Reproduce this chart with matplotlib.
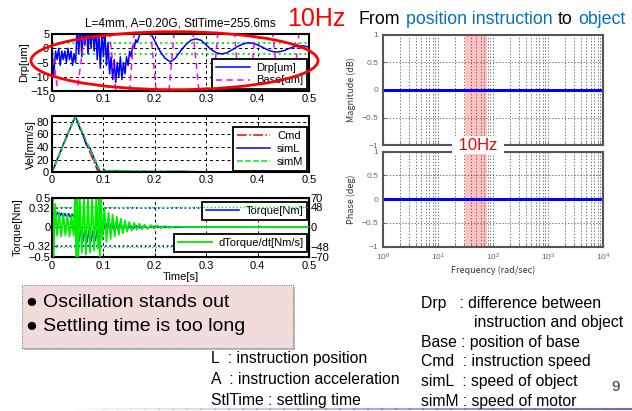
import numpy as np
import matplotlib.pyplot as plt
from matplotlib.patches import Ellipse, Rectangle
from matplotlib.lines import Line2D

# ---------------- values ----------------
time_ticks = [0, 0.1, 0.2, 0.3, 0.4, 0.5]

# Drp[um]
drp_t = [0, 0.003, 0.007, 0.010, 0.013, 0.016, 0.019, 0.022, 0.025, 0.028, 0.031, 0.034,
         0.037, 0.040, 0.043, 0.046, 0.049, 0.052, 0.055, 0.058, 0.061, 0.064, 0.067, 0.070,
         0.073, 0.076, 0.079, 0.082, 0.085, 0.088, 0.091, 0.094, 0.097, 0.100, 0.103, 0.106,
         0.109, 0.112, 0.115, 0.118, 0.121, 0.124, 0.127, 0.130, 0.133, 0.136, 0.139, 0.142,
         0.145, 0.148, 0.151, 0.154, 0.157, 0.160, 0.163, 0.166, 0.170, 0.180, 0.190, 0.200,
         0.210, 0.220, 0.230, 0.240, 0.250, 0.260, 0.270, 0.280, 0.290, 0.300, 0.310, 0.320,
         0.330, 0.340, 0.350, 0.360, 0.370, 0.380, 0.390, 0.400, 0.410, 0.420, 0.430, 0.440,
         0.450, 0.460, 0.470, 0.480, 0.490, 0.500]
drp_v = [0, -10, -1, -4, 0, -6, -1, -4, -1, -5, 0, -4,
         -1, -6, -2, -5, 8, -2, 9, -3, 9, 1, 9, -2,
         8, 0, 9, -1, 8, -4, 6, -7, 5, -3, 6, -6,
         2, -9, -3, -11, -4, -12, -5, -10, -3, -11, -5, -9,
         -3, -6, -1, -3, 1, 0, 3, 2, 4.5, 7, 6, 2.5,
         -1, -3.5, -4.8, -3.5, -1, 1.2, 2.8, 3.3, 2.8, 1.2, -0.5, -1.6,
         -2.0, -1.6, -0.6, 0.5, 1.4, 1.9, 1.8, 1.2, 0.3, -0.6, -1.2, -1.3,
         -0.9, -0.2, 0.5, 0.9, 0.8, 0.4]

# Base[um] (mostly off scale)
base_t = [0, 0.03, 0.09, 0.14, 0.175, 0.215, 0.255, 0.30, 0.34, 0.375, 0.41, 0.455, 0.5]
base_v = [0, -40, 40, -40, 40, -40, 40, -40, 40, -40, 40, -40, 40]
stl_band = [-2, 2]

# velocity [mm/s]
cmd_t = [0, 0.045, 0.09, 0.5]
cmd_v = [0, 88, 0, 0]
siml_t = [0, 0.01, 0.02, 0.03, 0.04, 0.045, 0.05, 0.055, 0.058, 0.062, 0.066, 0.07,
          0.074, 0.078, 0.082, 0.086, 0.09, 0.094, 0.098, 0.102, 0.106, 0.11, 0.12, 0.13,
          0.14, 0.15, 0.16, 0.18, 0.2, 0.22, 0.25, 0.27, 0.3, 0.4, 0.5]
siml_v = [0, 20, 40, 60, 78, 88, 80, 68, 64, 55, 45, 40,
          38, 30, 22, 14, 6, 1, 0, 4, 1, 2, 1.5, 2.5,
          1.5, 2, 1, 1.5, 1, 1.2, 1.5, 1, 0.5, 0.5, 0.5]
simm_t = [0, 0.045, 0.05, 0.06, 0.07, 0.08, 0.09, 0.095, 0.1, 0.12, 0.14, 0.16, 0.2, 0.25, 0.3, 0.5]
simm_v = [0, 88, 82, 62, 44, 26, 8, 1, 2, 3, 2.5, 2, 1.5, 1.5, 1, 0.5]

# torque [Nm]
tq_t = [0, 0.003, 0.007, 0.011, 0.015, 0.018, 0.022, 0.025, 0.029, 0.032, 0.036, 0.039,
        0.043, 0.045, 0.048, 0.052, 0.056, 0.060, 0.064, 0.068, 0.072, 0.076, 0.080, 0.084,
        0.088, 0.092, 0.096, 0.100, 0.104, 0.108, 0.112, 0.116, 0.120, 0.124, 0.128, 0.132,
        0.137, 0.142, 0.147, 0.152, 0.158, 0.164, 0.171, 0.178, 0.186, 0.195, 0.21, 0.25, 0.5]
tq_v = [0, 0.25, 0.17, 0.25, 0.18, 0.24, 0.17, 0.23, 0.18, 0.23, 0.17, 0.22,
        0.18, 0.20, -0.10, -0.25, -0.06, -0.24, -0.05, -0.25, -0.05, -0.24, -0.06, -0.23,
        -0.05, -0.20, -0.03, 0.10, -0.05, 0.08, -0.04, 0.07, -0.04, 0.06, -0.03, 0.05,
        -0.03, 0.04, -0.02, 0.03, -0.02, 0.02, -0.01, 0.015, -0.01, 0.01, 0.005, 0, 0]

# dTorque/dt [Nm/s]
dtq_t = [0, 0.001, 0.003, 0.006, 0.010, 0.014, 0.018, 0.022, 0.026, 0.030, 0.034, 0.038,
         0.042, 0.045, 0.047, 0.049, 0.051, 0.054, 0.058, 0.062, 0.066, 0.070, 0.074, 0.078,
         0.082, 0.086, 0.089, 0.091, 0.093, 0.095, 0.098, 0.102, 0.106, 0.110, 0.114, 0.118,
         0.122, 0.126, 0.130, 0.134, 0.138, 0.142, 0.146, 0.150, 0.155, 0.160, 0.165, 0.170,
         0.175, 0.180, 0.186, 0.192, 0.198, 0.205, 0.212, 0.220, 0.228, 0.240, 0.260, 0.500]
dtq_v = [0, 80, -80, 55, -20, 35, -22, 32, -20, 30, -22, 28,
         -20, 80, -80, 80, -80, 70, -60, 75, -65, 70, -60, 70,
         -55, 65, -50, 80, -80, 80, -30, 45, -35, 35, -28, 30,
         -22, 25, -18, 20, -14, 16, -10, 12, -8, 10, -6, 8,
         -5, 6, -4, 5, -3, 4, -2, 3, -1.5, 1.5, 0.5, 0]

tq_ticks = [-0.5, -0.32, 0, 0.32, 0.5]
tq_labels = ['\u22120.5', '\u22120.32', '0', '0.32', '0.5']
dtq_ticks = [-70, -48, 0, 48, 70]
dtq_labels = ['\u221270', '\u221248', '0', '48', '70']

# bode (flat)
bode_w = [1, 10, 100, 1000, 10000]
bode_mag = [0, 0, 0, 0, 0]
bode_phase = [0, 0, 0, 0, 0]
band_w = (31, 78)
bode_yticks = [-1, -0.5, 0, 0.5, 1]
bode_ylabels = ['\u22121', '\u22120.5', '0', '0.5', '1']

bullets = ['\u25cf Oscillation stands out', '\u25cf Settling time is too long']
legend_left = ['L  : instruction position', 'A  : instruction acceleration',
               'StlTime : settling time']
legend_right = ['Drp   : difference between', 'Base : position of base',
                'Cmd  : instruction speed', 'simL  : speed of object',
                'simM : speed of motor']
legend_right_y = [303, 342, 361.5, 381, 401]

# ---------------- layout helpers ----------------
W, H = 632, 411
SANS = ['Liberation Sans', 'DejaVu Sans']
JP = ['Noto Sans CJK JP', 'DejaVu Sans']
plt.rcParams['font.family'] = SANS


def rect(l, t, r, b):
    return [l / W, 1 - b / H, (r - l) / W, (b - t) / H]


def fx(x):
    return x / W


def fy(y):
    return 1 - y / H


fig = plt.figure(figsize=(W / 100, H / 100), dpi=100)

grid_kw = dict(color='k', linestyle=(0, (3, 3)), linewidth=0.7)
leg_kw = dict(fontsize=8, fancybox=False, edgecolor='k', framealpha=1,
              borderpad=0.35, labelspacing=0.25, handlelength=3,
              handletextpad=0.6, borderaxespad=0.15)


def style_left(ax):
    ax.set_xlim(0, 0.5)
    ax.set_xticks(time_ticks)
    ax.set_xticklabels(['0', '0.1', '0.2', '0.3', '0.4', '0.5'])
    ax.tick_params(direction='in', labelsize=8, length=3, pad=2)
    for s in ax.spines.values():
        s.set_linewidth(1.5)


# --- Drp ---
ax1 = fig.add_axes(rect(52, 34, 309, 91))
style_left(ax1)
ax1.grid(True, **grid_kw)
for v in stl_band:
    ax1.axhline(v, color='#00ee00', ls=':', lw=1.4)
ax1.plot(drp_t, drp_v, color='#0000ff', lw=1.1, label='Drp[um]')
ax1.plot(base_t, base_v, color='#ff00ff', lw=1.1, ls=(0, (4, 3)), label='Base[um]')
ax1.set_ylim(-15, 5)
ax1.set_yticks([-15, -10, -5, 0, 5])
ax1.set_yticklabels(['\u221215', '\u221210', '\u22125', '0', '5'])
ax1.set_ylabel('Drp[um]', fontsize=8, labelpad=1)
ax1.legend(loc='lower right', **leg_kw).get_frame().set_linewidth(1.3)

# --- Vel ---
ax2 = fig.add_axes(rect(52, 116, 309, 172.3))
style_left(ax2)
ax2.grid(True, **grid_kw)
ax2.plot(cmd_t, cmd_v, color='red', lw=1.1, ls='-.', label='Cmd')
ax2.plot(siml_t, siml_v, color='#0000ff', lw=1.1, label='simL')
ax2.plot(simm_t, simm_v, color='#00ee00', lw=1.1, ls='--', label='simM')
ax2.set_ylim(0, 89)
ax2.set_yticks([0, 20, 40, 60, 80])
ax2.set_ylabel('Vel[mm/s]', fontsize=8, labelpad=1)
ax2.legend(loc='lower right', **leg_kw).get_frame().set_linewidth(1.3)

# --- Torque ---
ax3 = fig.add_axes(rect(52, 197.7, 309, 256.7))
style_left(ax3)
ax3.grid(True, axis='x', **grid_kw)
ax3.axhline(0, **grid_kw)
for v in (-0.32, 0.32):
    ax3.axhline(v, color='#0000ff', ls=':', lw=1.2)
ax3.plot(tq_t, tq_v, color='#0000ff', lw=1.1, label='Torque[Nm]')
ax3.set_ylim(-0.5, 0.5)
ax3.set_yticks(tq_ticks)
ax3.set_yticklabels(tq_labels)
ax3.tick_params(axis='y', pad=1)
ax3.tick_params(axis='x', pad=3)
ax3.set_ylabel('Torque[Nm]', fontsize=8, labelpad=0)
ax3.set_xlabel('Time[s]', fontsize=8, labelpad=1)

ax3b = ax3.twinx()
for v in (-48, 48):
    ax3b.axhline(v, color='#00ee00', ls=':', lw=1.0)
ax3b.plot(dtq_t, dtq_v, color='#00ee00', lw=1.3, label='dTorque/dt[Nm/s]')
ax3b.set_ylim(-70, 70)
ax3b.set_yticks(dtq_ticks)
ax3b.set_yticklabels(dtq_labels)
ax3b.tick_params(direction='in', labelsize=8, length=3, pad=1)
ax3.legend(loc='upper right', bbox_to_anchor=(1, 0.96), **leg_kw).get_frame().set_linewidth(1.3)
ax3b.legend(loc='lower right', bbox_to_anchor=(1, 0.05), **leg_kw).get_frame().set_linewidth(1.3)

# --- Bode ---
gray = '#666666'
axm = fig.add_axes(rect(383, 34.5, 603, 145.4))
axp = fig.add_axes(rect(383, 151.7, 603, 246.7))
bgrid = dict(color='#444444', linestyle=(0, (2, 2.5)), linewidth=0.5)
for ax in (axm, axp):
    ax.set_xscale('log')
    ax.set_xlim(1, 1e4)
    ax.set_ylim(-1, 1)
    ax.axvspan(*band_w, color='#ff3030', alpha=0.3, lw=0, zorder=0.5)
    ax.grid(True, which='both', axis='x', **bgrid)
    ax.grid(True, which='major', axis='y', **bgrid)
    ax.set_yticks(bode_yticks)
    ax.set_yticklabels(bode_ylabels)
    ax.tick_params(which='both', direction='in', colors=gray, labelsize=6, length=2)
    for s in ax.spines.values():
        s.set_linewidth(1.5)
        s.set_color('#555555')
axm.tick_params(labelbottom=False)
axm.plot(bode_w, bode_mag, color='#0000ff', lw=2.2)
axp.plot(bode_w, bode_phase, color='#0000ff', lw=2.2)
axm.set_ylabel('Magnitude (dB)', fontsize=6.5, family=JP, color='#333333', labelpad=4)
axp.set_ylabel('Phase (deg)', fontsize=6.5, family=JP, color='#333333', labelpad=4)
axp.set_xlabel('Frequency (rad/sec)', fontsize=6.5, family=JP, color='#333333', labelpad=2)

# ---------------- slide text and marks ----------------
fig.text(fx(180), fy(24), 'L=4mm, A=0.20G, StlTime=255.6ms', fontsize=8.5,
         ha='center', va='center')
fig.text(fx(287), fy(19), '10Hz', color='red', fontsize=18, va='center')

x = 359
for s, c in [('From', 'black'), ('position instruction', '#0070c0'),
             ('to', 'black'), ('object', '#0070c0')]:
    t = fig.text(fx(x), fy(19), s, color=c, fontsize=12.8, va='center')
    bb = t.get_window_extent(fig.canvas.get_renderer())
    x = bb.x1 + 5.5

fig.text(fx(478), fy(145), ' 10Hz ', color='red', fontsize=12, ha='center', va='center',
         zorder=6, bbox=dict(boxstyle='square,pad=0.1', fc='white', ec='none'))

ell = Ellipse((fx(174.5), fy(60.7)), 287 / W, 58 / H, transform=fig.transFigure,
              fill=False, ec='red', lw=2, zorder=5)
fig.add_artist(ell)

fig.add_artist(Rectangle((fx(24), fy(350)), 271 / W, 63 / H, transform=fig.transFigure,
                         fc='#bbbbbb', ec='none', zorder=1))
fig.add_artist(Rectangle((fx(22), fy(348)), 271 / W, 63 / H, transform=fig.transFigure,
                         fc='#f2dcdb', ec='#888888', lw=0.8, ls=(0, (1, 1)), zorder=2))
for i, s in enumerate(bullets):
    fig.text(fx(26), fy(302 + 24 * i), s, fontsize=14, va='center', zorder=3)

for i, s in enumerate(legend_left):
    fig.text(fx(211), fy(358 + 21 * i), s, fontsize=11.3, va='center')
for s, yy in zip(legend_right, legend_right_y):
    fig.text(fx(421), fy(yy), s, fontsize=11.3, va='center')
fig.text(fx(474), fy(322.5), 'instruction and object', fontsize=11.3, va='center')
fig.text(fx(611), fy(387), '9', fontsize=11, color='#333333', va='center')

n = 40
for i in range(n):
    x0 = 0.12 + i * 0.88 / n
    fig.add_artist(Line2D([x0, x0 + 0.88 / n], [fy(409), fy(409)], color='#6a6ac0',
                          alpha=(i + 1) / n, lw=1.5, transform=fig.transFigure))

fig.savefig('out.png', dpi=100)
